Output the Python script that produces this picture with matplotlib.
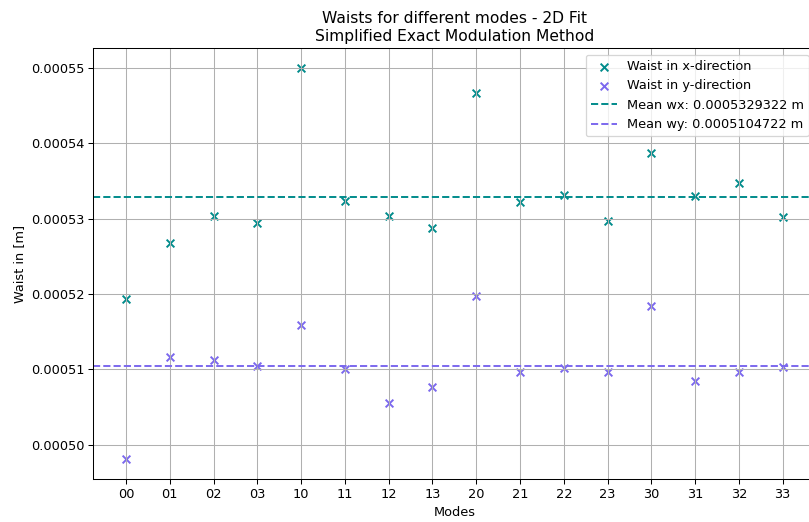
import matplotlib
matplotlib.use("Agg")
import matplotlib.pyplot as plt

modes = ["00", "01", "02", "03", "10", "11", "12", "13",
         "20", "21", "22", "23", "30", "31", "32", "33"]

waist_x = [0.0005194, 0.0005268, 0.0005303, 0.0005294, 0.0005500, 0.0005324,
           0.0005304, 0.0005287, 0.0005467, 0.0005322, 0.0005331, 0.0005297,
           0.0005387, 0.0005330, 0.0005347, 0.0005302]

waist_y = [0.0004981, 0.0005117, 0.0005113, 0.0005104, 0.0005159, 0.0005101,
           0.0005055, 0.0005077, 0.0005197, 0.0005096, 0.0005102, 0.0005096,
           0.0005184, 0.0005085, 0.0005097, 0.0005103]

mean_wx = 0.0005329322
mean_wy = 0.0005104722

DPI = 93
fig = plt.figure(figsize=(809 / DPI, 522 / DPI), dpi=DPI)
ax = fig.add_axes([0.1153, 0.083, 0.8927, 0.8245])

pos = list(range(len(modes)))
ax.scatter(pos, waist_x, marker="x", color="darkcyan", label="Waist in x-direction")
ax.scatter(pos, waist_y, marker="x", color="mediumslateblue", label="Waist in y-direction")
ax.axhline(mean_wx, color="darkcyan", linestyle="--", label=f"Mean wx: {mean_wx} m")
ax.axhline(mean_wy, color="mediumslateblue", linestyle="--", label=f"Mean wy: {mean_wy} m")

ax.set_xticks(pos)
ax.set_xticklabels(modes)
ax.set_xlabel("Modes")
ax.set_ylabel("Waist in [m]")
ax.set_title("Waists for different modes - 2D Fit\nSimplified Exact Modulation Method")
ax.grid(True)
ax.legend(loc="upper right")

fig.savefig("out.png", dpi=DPI)
